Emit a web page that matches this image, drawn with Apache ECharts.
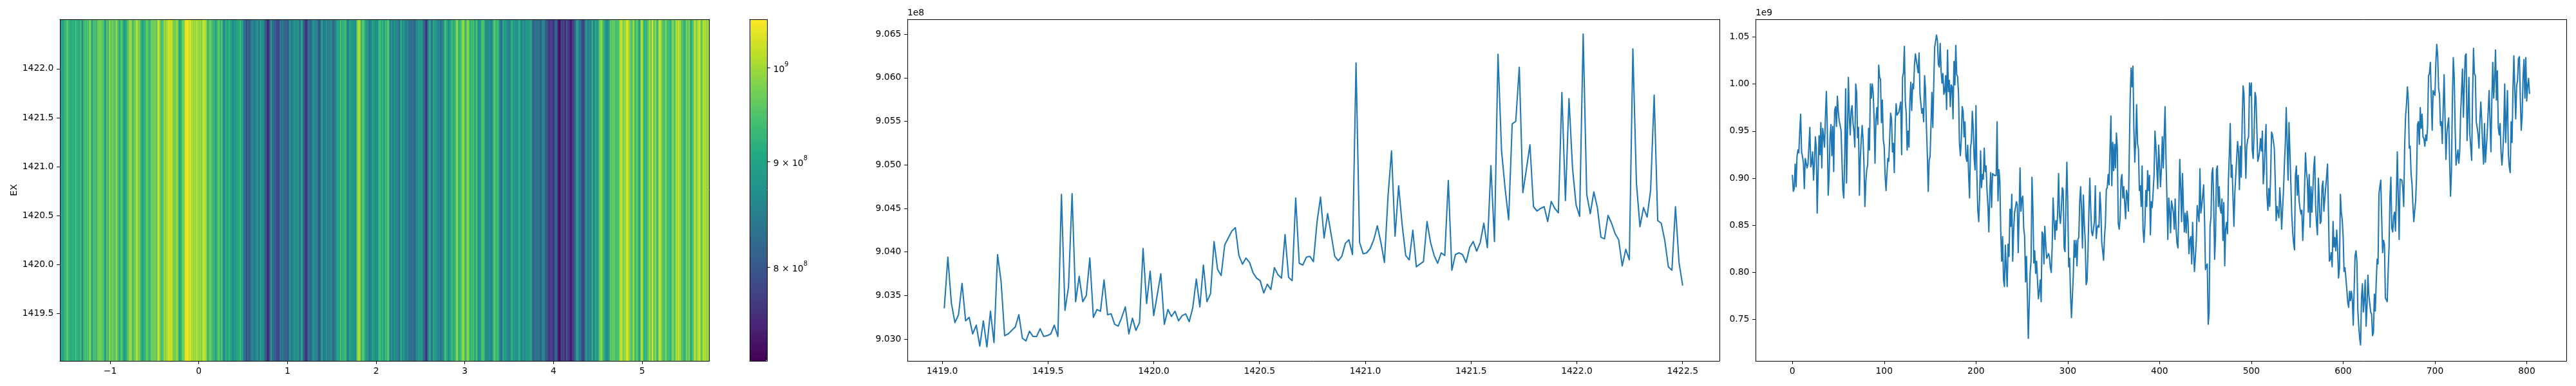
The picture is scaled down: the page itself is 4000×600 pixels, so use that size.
<!DOCTYPE html>
<html>
<head>
<meta charset="utf-8">
<style>html,body{margin:0;padding:0;background:#fff}#c{width:4000px;height:600px}</style>
<script src="https://cdn.jsdelivr.net/npm/echarts@6/dist/echarts.min.js"></script>
</head>
<body>
<div id="c"></div>
<script>
// mean along the column axis, 1e-3 of 1e9
const spectrumMilli = [
903,886,889,915,891,923,930,927,950,968,928,923,916,889,921,922,911,915,914,954,
912,916,928,898,916,944,933,863,864,945,925,959,911,953,944,933,966,992,953,882,
903,944,957,924,955,907,972,976,955,987,971,961,962,951,950,887,879,925,995,895,
948,1007,966,946,971,977,959,950,933,1000,991,943,954,882,921,941,956,941,914,870,
896,909,914,953,930,1000,985,1000,991,964,916,962,975,957,1020,1007,1005,959,983,941,
934,903,887,905,921,918,943,969,963,928,937,906,959,979,967,967,970,971,981,925,
1007,1012,1040,982,969,930,950,933,982,1002,972,1000,995,1020,1032,1025,1026,1012,1033,989,
979,969,974,960,1009,994,955,925,886,919,923,957,991,954,1000,1039,1040,1052,1046,1021,
1018,1043,1014,1001,1011,989,992,1009,973,1036,992,1004,976,999,997,963,1024,999,1041,1010,
1008,989,937,924,941,976,971,944,960,923,918,935,903,879,932,939,971,953,921,909,
977,903,866,854,880,929,890,904,899,932,907,913,887,871,843,884,906,869,905,904,
903,902,903,960,876,909,897,843,812,838,792,785,829,805,785,830,817,867,849,883,
812,843,863,864,875,872,821,862,911,865,878,881,847,838,790,817,775,730,766,800,
812,901,868,810,823,799,812,811,772,780,792,769,843,841,809,849,830,815,817,820,
817,805,800,827,879,879,835,855,845,864,905,860,852,867,890,887,826,822,873,917,
873,806,815,777,752,752,796,834,816,834,807,835,837,875,891,866,826,882,852,834,
787,791,821,864,900,868,843,839,846,854,892,836,847,850,848,885,868,832,823,813,
837,852,888,890,904,893,892,966,892,938,908,936,911,948,932,852,846,857,898,904,
879,891,890,857,887,882,865,925,985,1017,997,1019,953,917,939,978,937,931,887,892,
870,913,846,832,850,887,870,908,887,903,840,875,869,868,903,950,934,934,889,935,
914,891,911,944,911,944,976,921,880,835,879,866,842,876,875,864,846,878,846,831,
826,868,920,891,854,905,868,843,863,842,865,855,820,834,838,809,853,823,801,816,
834,871,862,854,910,863,871,882,893,857,803,807,809,745,757,849,858,905,911,873,
814,839,909,913,870,891,868,863,878,834,874,807,846,853,841,898,925,958,901,914,
880,849,884,903,921,939,928,888,934,901,960,998,989,937,900,934,941,944,1001,988,
1001,930,921,948,991,986,985,918,922,929,942,929,950,894,909,937,957,882,866,889,
870,903,949,946,945,932,898,855,870,870,858,890,873,846,846,887,914,937,975,937,
898,959,928,928,862,843,831,824,903,913,882,903,876,868,862,866,834,857,891,927,
907,898,864,904,848,891,864,887,912,923,871,852,840,900,878,852,854,891,897,865,
878,890,891,915,864,812,814,821,806,854,827,837,823,845,825,794,805,883,864,856,
838,801,805,805,782,768,763,780,770,780,771,744,782,818,823,812,759,743,730,723,
773,788,758,771,792,743,764,797,776,777,758,756,733,736,777,759,789,814,809,883,
891,898,857,821,834,830,773,771,769,800,827,880,901,847,843,859,864,844,880,928,
880,835,899,899,898,889,870,934,966,978,997,983,932,934,905,894,871,854,866,876,
903,957,960,936,975,953,968,944,942,934,946,940,955,1009,1011,1023,1022,951,993,994,
988,1023,1042,1030,995,989,956,960,937,975,1010,964,920,948,957,964,919,881,907,982,
1028,1007,953,914,922,930,916,928,969,970,1016,965,964,1030,1032,940,966,1007,947,946,
919,987,1038,1011,1009,960,954,946,932,962,981,960,934,915,958,917,916,948,971,993,
962,928,983,1023,985,1005,1036,983,1014,954,946,958,928,914,928,953,1000,938,966,993,
925,912,906,960,938,994,1030,994,963,998,1004,1027,1029,985,951,966,1007,1026,985,1028,
982,998,1006,990
];
// mean along the energy axis, 1e4 units
const energyCounts = [
90336,90394,90341,90319,90328,90364,90321,90325,90306,90316,90292,90321,90291,90332,90296,90397,90366,90304,90306,90310,
90314,90328,90301,90298,90309,90303,90303,90312,90303,90304,90306,90316,90303,90466,90333,90360,90467,90343,90372,90343,
90350,90393,90325,90334,90332,90368,90328,90329,90317,90315,90325,90337,90306,90324,90310,90319,90404,90341,90378,90327,
90351,90375,90317,90334,90326,90332,90321,90327,90329,90320,90336,90369,90337,90385,90343,90352,90412,90380,90373,90408,
90416,90424,90428,90396,90386,90393,90388,90376,90370,90367,90353,90363,90357,90382,90374,90370,90420,90371,90367,90462,
90387,90385,90394,90395,
90389,90434,90463,90416,90444,90420,90395,90390,90395,90410,90414,90397,90617,90411,90398,90399,90404,90414,90430,90411,
90388,90463,90516,90418,90476,90431,90396,90391,90425,90383,90386,90389,90435,90411,90396,90387,90399,90396,90482,90379,
90397,90399,90397,90388,90405,90412,90401,90411,90433,90405,90499,90412,90627,90516,90473,90437,90547,90550,90612,90468,
90495,90523,90452,90447,90450,90452,90435,90458,90450,90445,90583,90459,90576,90496,90454,90441,90650,90466,90444,90469,
90451,90417,90415,90442,90433,90421,90414,90384,90403,90391,90633,90479,90429,90451,90440,90471,90580,90436,90433,90413,
90383,90379,90452,90388,90362
];
const energyStart = 1419.01;
const energyEnd = 1422.5;
const heatXMin = -1.567, heatXMax = 5.755;
const heatYMin = 1419.015, heatYMax = 1422.505;
const colorMin = 7.205e8, colorMax = 1.0556e9;
const heatXTicks = [-1,0,1,2,3,4,5];
const heatYTicks = [1419.5,1420,1420.5,1421,1421.5,1422];
const colorTicks = [8e8,9e8,1e9];
const energyXTicks = [1419,1419.5,1420,1420.5,1421,1421.5,1422,1422.5];
const energyYTicks = [9.030e8,9.035e8,9.040e8,9.045e8,9.050e8,9.055e8,9.060e8,9.065e8];
const specXTicks = [0,100,200,300,400,500,600,700,800];
const specYTicks = [0.75e9,0.80e9,0.85e9,0.90e9,0.95e9,1.00e9,1.05e9];
const viridis = ['#440154','#482475','#414487','#355f8d','#2a788e','#21918c','#22a884','#44bf70','#7ad151','#bddf26','#fde725'];

const FONT = 'DejaVu Sans', FS = 13.89, LINE = '#1f77b4';
const spectrum = spectrumMilli.map(v => v * 1e6);
const energy = energyCounts.map(v => v * 1e4);
const energyX = energy.map((_, i) => energyStart + i * (energyEnd - energyStart) / (energy.length - 1));
const dx = (heatXMax - heatXMin) / spectrum.length;
const heatData = spectrum.map((v, i) => [heatXMin + i * dx, heatXMin + (i + 1) * dx, Math.log10(v)]);

const lineOn = {show:true, onZero:false, lineStyle:{color:'#000', width:1}};
const tl = {fontFamily:FONT, fontSize:FS, color:'#000', margin:9.7, hideOverlap:false};
function mainX(gridIndex, min, max, ticks, fmt) {
  return {type:'value', gridIndex, min, max, position:'bottom', z:10, axisLine:lineOn, splitLine:{show:false},
    axisTick:{show:true, length:4.86, lineStyle:{color:'#000', width:1}, customValues:ticks},
    axisLabel:Object.assign({}, tl, {customValues:ticks, formatter:fmt})};
}
function mainY(gridIndex, min, max, ticks, fmt, extra) {
  return Object.assign({type:'value', gridIndex, min, max, position:'left', z:10, axisLine:lineOn, splitLine:{show:false},
    axisTick:{show:true, length:4.86, lineStyle:{color:'#000', width:1}, customValues:ticks},
    axisLabel:Object.assign({}, tl, {customValues:ticks, formatter:fmt})}, extra || {});
}
function frame(gridIndex, position, min, max) {
  return {type:'value', gridIndex, position, min, max, z:10, axisLine:lineOn,
    axisTick:{show:false}, axisLabel:{show:false}, splitLine:{show:false}};
}
const offset = t => ({name:t, nameLocation:'end', nameGap:3,
  nameTextStyle:{fontFamily:FONT, fontSize:FS, color:'#000', align:'left', verticalAlign:'bottom'}});

const logMin = Math.log10(colorMin), logMax = Math.log10(colorMax);
const cbFmt = v => {
  const p = Math.round(Math.pow(10, v) / 1e8);
  return p === 10 ? '{b|10}{s|9}' : '{b|' + p + ' × 10}{s|8}';
};

const grids = [
  {left:93, top:30, width:1008, height:531},
  {left:1164, top:30, width:27, height:531},
  {left:1409, top:30, width:1261, height:531},
  {left:2726, top:30, width:1259, height:531}
];
const option = {
  animation:false,
  backgroundColor:'#fff',
  textStyle:{fontFamily:FONT},
  grid:grids.map(g => Object.assign({containLabel:false, show:false}, g)),
  xAxis:[
    mainX(0, heatXMin, heatXMax, heatXTicks, v => String(v).replace('-', '\u2212')),
    frame(0, 'top', heatXMin, heatXMax),
    frame(1, 'bottom', 0, 1),
    frame(1, 'top', 0, 1),
    mainX(2, 1418.8355, 1422.6745, energyXTicks, v => v.toFixed(1)),
    frame(2, 'top', 1418.8355, 1422.6745),
    mainX(3, -40.15, 843.15, specXTicks, v => String(v)),
    frame(3, 'top', -40.15, 843.15)
  ],
  yAxis:[
    mainY(0, heatYMin, heatYMax, heatYTicks, v => v.toFixed(1), {
      name:'EX', nameLocation:'middle', nameGap:64,
      nameTextStyle:{fontFamily:FONT, fontSize:FS, color:'#000'}}),
    frame(0, 'right', heatYMin, heatYMax),
    frame(1, 'left', logMin, logMax),
    {type:'value', gridIndex:1, position:'right', min:logMin, max:logMax, z:10, axisLine:lineOn, splitLine:{show:false},
      axisTick:{show:true, length:4.86, lineStyle:{color:'#000', width:1}, customValues:colorTicks.map(Math.log10)},
      axisLabel:{customValues:colorTicks.map(Math.log10), formatter:cbFmt, margin:9.7, hideOverlap:false,
        fontFamily:FONT, fontSize:FS, color:'#000',
        rich:{b:{fontFamily:FONT, fontSize:FS, color:'#000', lineHeight:20, verticalAlign:'bottom'},
              s:{fontFamily:FONT, fontSize:9.7, color:'#000', lineHeight:20, verticalAlign:'top'}}}},
    mainY(2, 9.0275e8, 9.0667e8, energyYTicks, v => (v / 1e8).toFixed(3), offset('1e8')),
    frame(2, 'right', 9.0275e8, 9.0667e8),
    mainY(3, 0.7061e9, 1.0687e9, specYTicks, v => (v / 1e9).toFixed(2), offset('1e9')),
    frame(3, 'right', 0.7061e9, 1.0687e9)
  ],
  visualMap:[{
    type:'continuous', seriesIndex:0, dimension:2, min:logMin, max:logMax,
    calculable:false, hoverLink:false, padding:0, itemWidth:27, itemHeight:531,
    left:1164, top:30, orient:'vertical', text:null, showLabel:false,
    inRange:{color:viridis}
  }],
  series:[
    {type:'custom', xAxisIndex:0, yAxisIndex:0, clip:true, silent:true,
      dimensions:['x0','x1','logv'], encode:{x:[0,1]},
      data:heatData,
      renderItem:(params, api) => {
        const a = api.coord([api.value(0), heatYMin]);
        const b = api.coord([api.value(1), heatYMax]);
        return {type:'rect', shape:{x:a[0], y:b[1], width:b[0] - a[0] + 0.6, height:a[1] - b[1]},
          style:{fill:api.visual('color')}};
      }},
    {type:'line', xAxisIndex:4, yAxisIndex:4, showSymbol:false, silent:true, sampling:null,
      lineStyle:{color:LINE, width:2.08, join:'round', cap:'round'}, itemStyle:{color:LINE},
      data:energy.map((v, i) => [energyX[i], v])},
    {type:'line', xAxisIndex:6, yAxisIndex:6, showSymbol:false, silent:true,
      lineStyle:{color:LINE, width:2.08, join:'round', cap:'round'}, itemStyle:{color:LINE},
      data:spectrum.map((v, i) => [i, v])}
  ]
};
const chart = echarts.init(document.getElementById('c'), null, {renderer:'canvas'});
chart.setOption(option);
</script>
</body>
</html>
